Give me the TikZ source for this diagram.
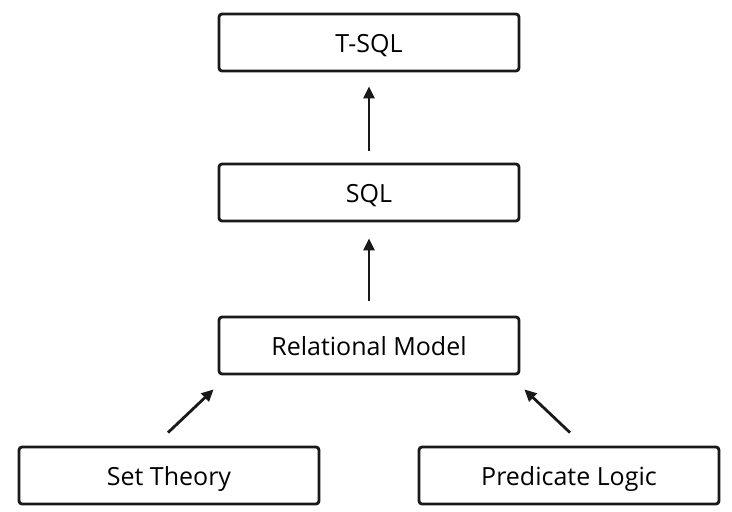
\documentclass[tikz,border=0pt]{standalone}
\usepackage{fontspec}
\setmainfont{Open Sans}
\usetikzlibrary{arrows.meta}
\begin{document}
\begin{tikzpicture}[x=1pt,y=-1pt,
  box/.style={draw=black!90,line width=2.8pt,rounded corners=3pt,minimum width=300pt,minimum height=57pt,inner sep=0pt,text height=20pt,text depth=0pt,font=\fontsize{25}{30}\selectfont,text=black},
  arr/.style={line width=2.8pt,draw=black!90,-{Triangle[length=12pt,width=11pt]}}]
\useasboundingbox (0,0) rectangle (732,512);
\node[box] (tsql) at (369,42.5) {T-SQL};
\node[box] (sql) at (369,192.5) {SQL};
\node[box] (rel) at (369,345.5) {Relational Model};
\node[box] (set) at (169,475.5) {Set Theory};
\node[box] (pred) at (569,475.5) {Predicate Logic};
\draw[arr] ([yshift=12pt]sql.north) -- ([yshift=-14pt]tsql.south);
\draw[arr] ([yshift=15pt]rel.north) -- ([yshift=-16pt]sql.south);
\draw[arr] ([xshift=-1pt,yshift=13pt]set.north) -- ([xshift=-4pt,yshift=-14pt]rel.south west);
\draw[arr] ([xshift=1pt,yshift=13pt]pred.north) -- ([xshift=4pt,yshift=-14pt]rel.south east);
\end{tikzpicture}
\end{document}
